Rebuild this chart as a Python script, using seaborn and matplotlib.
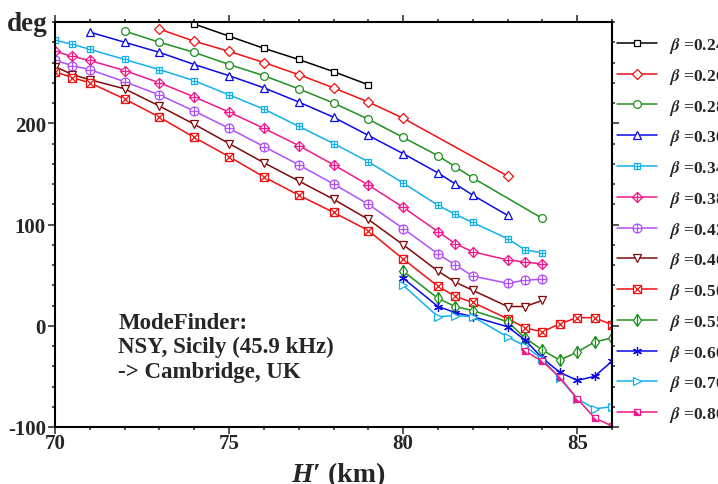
import matplotlib
matplotlib.use("Agg")
import matplotlib.pyplot as plt
from matplotlib.path import Path
from matplotlib.ticker import MultipleLocator, FixedLocator
from matplotlib.legend_handler import HandlerTuple
import pandas as pd
import seaborn as sns

# Phase (deg) versus reference height H' (km) for each sharpness beta
H_024 = [74, 75, 76, 77, 78, 79]
P_024 = [298, 286, 274, 263, 251, 238]

H_026 = [73, 74, 75, 76, 77, 78, 79, 80, 83]
P_026 = [293, 281, 271, 260, 248, 235, 221, 205, 148]

H_028 = [72, 73, 74, 75, 76, 77, 78, 79, 80, 81, 81.5, 82, 84]
P_028 = [291, 280, 270, 258, 247, 234, 220, 204, 186, 168, 157, 146, 106]

H_030 = [71, 72, 73, 74, 75, 76, 77, 78, 79, 80, 81, 81.5, 82, 83]
P_030 = [290, 280, 270, 258, 247, 235, 221, 206, 188, 170, 151, 140, 129, 109]

H_034 = [70, 70.5, 71, 72, 73, 74, 75, 76, 77, 78, 79, 80, 81, 81.5, 82, 83, 83.5, 84]
P_034 = [282, 278, 273, 263, 253, 242, 228, 214, 197, 180, 162, 141, 119, 110, 102, 86, 75, 72]

H_038 = [70, 70.5, 71, 72, 73, 74, 75, 76, 77, 78, 79, 80, 81, 81.5, 82, 83, 83.5, 84]
P_038 = [271, 266, 262, 252, 240, 226, 211, 195, 178, 159, 139, 117, 93, 81, 73, 65, 63, 61]

H_042 = [70, 70.5, 71, 72, 73, 74, 75, 76, 77, 78, 79, 80, 81, 81.5, 82, 83, 83.5, 84]
P_042 = [262, 257, 253, 241, 228, 212, 195, 177, 159, 140, 120, 96, 71, 60, 49, 42, 45, 46]

H_046 = [70, 70.5, 71, 72, 73, 74, 75, 76, 77, 78, 79, 80, 81, 81.5, 82, 83, 83.5, 84]
P_046 = [256, 248, 243, 234, 217, 199, 180, 161, 143, 125, 105, 80, 54, 43, 35, 19, 19, 25]

H_050 = [70, 70.5, 71, 72, 73, 74, 75, 76, 77, 78, 79, 80, 81, 81.5, 82, 83, 83.5, 84,
         84.5, 85, 85.5, 86]
P_050 = [251, 245, 240, 224, 206, 186, 167, 147, 129, 112, 94, 66, 39, 29, 23, 7, -2, -6,
         2, 8, 8, 1]

H_055 = [80, 81, 81.5, 82, 83, 83.5, 84, 84.5, 85, 85.5, 86]
P_055 = [54, 27, 19, 15, 4, -12, -24, -34, -26, -16, -12]

H_060 = [80, 81, 81.5, 82, 83, 83.5, 84, 84.5, 85, 85.5, 86]
P_060 = [47, 19, 13, 9, -1, -14, -32, -46, -54, -50, -35]

H_070 = [80, 81, 81.5, 82, 83, 83.5, 84, 84.5, 85, 85.5, 86]
P_070 = [40, 9, 10, 9, -11, -20, -33, -52, -72, -82, -80]

H_080 = [83.5, 84, 84.5, 85, 85.5, 86]
P_080 = [-25, -35, -51, -72, -91, -99]

BETA_LABELS = ["0.24", "0.26", "0.28", "0.30", "0.34", "0.38", "0.42",
               "0.46", "0.50", "0.55", "0.60", "0.70", "0.80"]

# ---- marker shapes -------------------------------------------------------
M, L, C = Path.MOVETO, Path.LINETO, Path.CLOSEPOLY
square = Path([(-1, -1), (1, -1), (1, 1), (-1, 1), (-1, -1)], [M, L, L, L, C])
diamond = Path([(0, -1), (1, 0), (0, 1), (-1, 0), (0, -1)], [M, L, L, L, C])
plus = Path([(-1, 0), (1, 0), (0, -1), (0, 1)], [M, L, M, L])
xcross = Path([(-1, -1), (1, 1), (-1, 1), (1, -1)], [M, L, M, L])
corner = Path([(-1, -1), (1, -1), (-1, 1), (-1, -1)], [M, L, L, C])
sq_plus = Path.make_compound_path(square, plus)
dia_plus = Path.make_compound_path(diamond, plus)
circ_plus = Path.make_compound_path(Path.unit_circle(), plus)
sq_cross = Path.make_compound_path(square, xcross)

BLACK = "#000000"
RED = "#F01010"
GREEN = "#1E901E"
BLUE = "#0A0AE6"
CYAN = "#14B0EE"
PINK = "#F0188A"
PURPLE = "#B050F8"
MAROON = "#800A0A"

series = [
    (H_024, P_024, BLACK, dict(marker=square, markersize=5.0)),
    (H_026, P_026, RED, dict(marker=diamond, markersize=7.2)),
    (H_028, P_028, GREEN, dict(marker="o", markersize=5.6)),
    (H_030, P_030, BLUE, dict(marker="^", markersize=6.0)),
    (H_034, P_034, CYAN, dict(marker=sq_plus, markersize=5.0)),
    (H_038, P_038, PINK, dict(marker=dia_plus, markersize=7.2)),
    (H_042, P_042, PURPLE, dict(marker=circ_plus, markersize=6.4)),
    (H_046, P_046, MAROON, dict(marker="v", markersize=6.4)),
    (H_050, P_050, RED, dict(marker=sq_cross, markersize=5.8)),
    (H_055, P_055, GREEN, dict(marker="d", markersize=6.4, fillstyle="left",
                               markerfacecoloralt="white")),
    (H_060, P_060, BLUE, dict(marker=(6, 2, 0), markersize=6.4)),
    (H_070, P_070, CYAN, dict(marker=">", markersize=6.4)),
    (H_080, P_080, PINK, dict(marker=square, markersize=5.0)),
]

sns.set_theme(style="ticks")
plt.rcParams.update({
    "font.family": ["Liberation Serif", "DejaVu Serif"],
    "font.weight": "bold",
    "mathtext.fontset": "stix",
    "axes.unicode_minus": False,
    "axes.linewidth": 1.5,
    "xtick.direction": "out",
    "ytick.direction": "out",
})

fig, ax = plt.subplots(figsize=(7.18, 4.85), dpi=100)
fig.subplots_adjust(left=55 / 718, right=612 / 718, bottom=1 - 428 / 485, top=1 - 23 / 485)

handles = []
for h, p, color, mk in series:
    df = pd.DataFrame({"H": h, "phase": p})
    kw = dict(mk)
    kw.setdefault("markerfacecolor", "white")
    if kw["marker"] == (6, 2, 0):
        kw["markerfacecolor"] = color
    sns.lineplot(data=df, x="H", y="phase", ax=ax, color=color, linewidth=1.1,
                 markeredgecolor=color, markeredgewidth=0.9, errorbar=None,
                 sort=False, legend=False, **kw)
    handles.append(ax.lines[-1])

# half-filled corner on the beta = 0.80 squares
overlay = ax.plot(H_080, P_080, linestyle="none", marker=corner, markersize=5.0,
                  color=PINK, markeredgewidth=0)[0]
handles[-1] = (handles[-1], overlay)

ax.set_xlim(70, 86)
ax.set_ylim(-100, 300)
ax.xaxis.set_major_locator(MultipleLocator(5))
ax.xaxis.set_minor_locator(MultipleLocator(1))
ax.yaxis.set_major_locator(FixedLocator([-100, 0, 100, 200]))
ax.yaxis.set_minor_locator(MultipleLocator(20))
ax.tick_params(which="both", top=True, right=True, width=1.1)
ax.tick_params(which="major", length=5, labelsize=15)
ax.tick_params(which="minor", length=2.5)
ax.tick_params(axis="y", which="major", pad=1.5)
ax.tick_params(axis="x", which="major", pad=-1)
for lab in ax.get_xticklabels() + ax.get_yticklabels():
    lab.set_fontweight("bold")
ax.set_xlabel("")
ax.set_ylabel("")
for s in ax.spines.values():
    s.set_linewidth(1.5)
    s.set_color("black")

fig.text(7 / 718, 1 - 31 / 485, "deg", fontsize=19.5, fontweight="bold",
         va="baseline", ha="left")
# axis title: italic H-prime followed by upright unit
fig.text(321 / 718, 1 - 482 / 485, "H\u2032", fontsize=20, fontweight="bold",
         fontstyle="italic", va="baseline", ha="right")
fig.text(321 / 718, 1 - 482 / 485, " (km)", fontsize=20, fontweight="bold",
         va="baseline", ha="left")

ax.text(0.114, 0.285, "ModeFinder:\nNSY, Sicily (45.9 kHz)\n-> Cambridge, UK",
        transform=ax.transAxes, fontsize=16.5, fontweight="bold", va="top",
        ha="left", linespacing=1.22)

labels = [r"$\beta$ =" + b for b in BETA_LABELS]
ax.legend(handles, labels, loc="upper left",
          bbox_to_anchor=(617 / 718, 1 - 36 / 485), bbox_transform=fig.transFigure,
          frameon=False, prop={"weight": "bold", "size": 12.5}, handlelength=2.3,
          handletextpad=0.7, labelspacing=0.62, borderpad=0, borderaxespad=0,
          handler_map={tuple: HandlerTuple(ndivide=1)})

fig.savefig("out.png", dpi=100)
